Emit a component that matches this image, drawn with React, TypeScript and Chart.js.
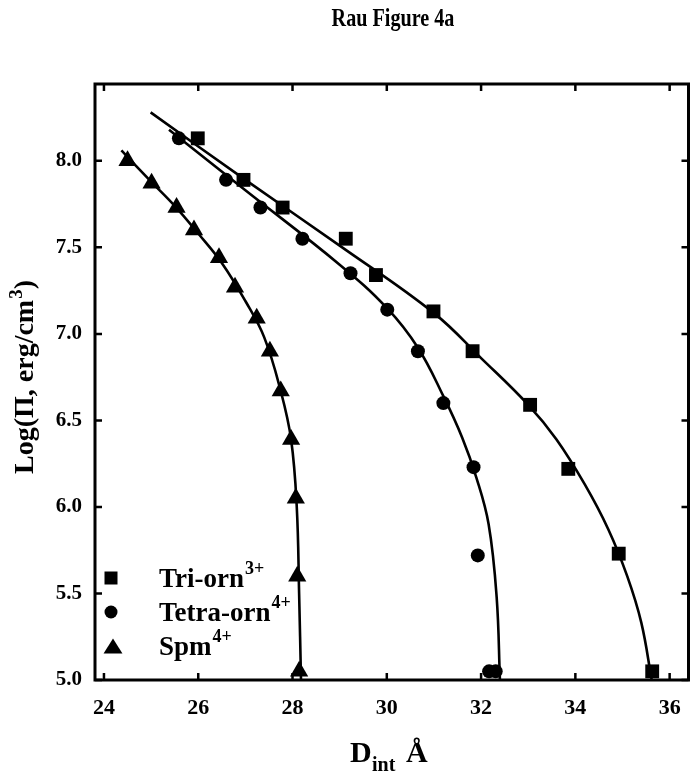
import React, { useEffect, useRef } from 'react';
import { Chart, registerables } from 'chart.js';

Chart.register(...registerables);

// ---- data ----
const triX = [25.99, 26.96, 27.79, 29.13, 29.77, 30.99, 31.82, 33.04, 33.85, 34.92, 35.63];
const triY = [8.13, 7.89, 7.73, 7.55, 7.34, 7.13, 6.90, 6.59, 6.22, 5.73, 5.05];

const tetraX = [25.59, 26.59, 27.32, 28.21, 29.23, 30.01, 30.66, 31.20, 31.84, 31.93, 32.17, 32.31];
const tetraY = [8.13, 7.89, 7.73, 7.55, 7.35, 7.14, 6.90, 6.60, 6.23, 5.72, 5.05, 5.05];

const spmX = [24.50, 25.01, 25.54, 25.91, 26.44, 26.78, 27.24, 27.52, 27.75, 27.97, 28.07, 28.10, 28.14];
const spmY = [8.00, 7.87, 7.73, 7.60, 7.44, 7.27, 7.09, 6.90, 6.67, 6.39, 6.05, 5.60, 5.05];

// fitted curves
const triFitX = [24.99, 27.0, 29.0, 31.0, 32.0, 33.0, 33.6, 34.2, 34.7, 35.1, 35.4, 35.62];
const triFitY = [8.28, 7.89, 7.51, 7.12, 6.86, 6.59, 6.39, 6.13, 5.87, 5.60, 5.33, 5.0];

const tetraFitX = [25.38, 27.0, 29.0, 30.0, 30.66, 31.2, 31.6, 31.9, 32.16, 32.33, 32.40];
const tetraFitY = [8.18, 7.83, 7.40, 7.15, 6.92, 6.64, 6.40, 6.17, 5.90, 5.48, 5.0];

const spmFitX = [24.37, 25.0, 25.5, 26.0, 26.5, 27.0, 27.4, 27.75, 27.97, 28.09, 28.14, 28.18];
const spmFitY = [8.06, 7.88, 7.74, 7.58, 7.41, 7.19, 6.98, 6.67, 6.39, 6.0, 5.5, 5.0];

const xTicks = [24, 26, 28, 30, 32, 34, 36];
const yTicks = [5.0, 5.5, 6.0, 6.5, 7.0, 7.5, 8.0];

const legendNames = ['Tri-orn', 'Tetra-orn', 'Spm'];
const legendSups = ['3+', '4+', '4+'];

const X_MIN = 23.81;
const X_MAX = 36.4;
const Y_MIN = 5.0;
const Y_MAX = 8.444;

const FONT = '"Liberation Serif", "Times New Roman", serif';

const pts = (xs: number[], ys: number[]) => xs.map((x, i) => ({ x, y: ys[i] }));

function drawMarker(ctx: CanvasRenderingContext2D, kind: number, x: number, y: number, s: number) {
  ctx.beginPath();
  if (kind === 0) {
    ctx.rect(x - s / 2, y - s / 2, s, s);
  } else if (kind === 1) {
    ctx.arc(x, y, s / 2, 0, Math.PI * 2);
  } else {
    const w = s * 1.45;
    const h = s * 1.15;
    ctx.moveTo(x, y - h / 2);
    ctx.lineTo(x + w / 2, y + h / 2);
    ctx.lineTo(x - w / 2, y + h / 2);
    ctx.closePath();
  }
  ctx.fill();
}

const framePlugin = {
  id: 'frameAndText',
  afterDraw(chart: any) {
    const { ctx, chartArea: a, scales } = chart;
    ctx.save();
    ctx.strokeStyle = '#000';
    ctx.fillStyle = '#000';
    ctx.lineWidth = 3;
    ctx.strokeRect(a.left, a.top, a.right - a.left, a.bottom - a.top);
    ctx.lineWidth = 2.5;
    const tl = 7;
    xTicks.forEach((v) => {
      const px = scales.x.getPixelForValue(v);
      ctx.beginPath();
      ctx.moveTo(px, a.bottom);
      ctx.lineTo(px, a.bottom - tl);
      ctx.moveTo(px, a.top);
      ctx.lineTo(px, a.top + tl);
      ctx.stroke();
    });
    yTicks.forEach((v) => {
      const py = scales.y.getPixelForValue(v);
      ctx.beginPath();
      ctx.moveTo(a.left, py);
      ctx.lineTo(a.left + tl, py);
      ctx.moveTo(a.right, py);
      ctx.lineTo(a.right - tl, py);
      ctx.stroke();
    });

    // title
    ctx.save();
    ctx.font = `bold 26px ${FONT}`;
    ctx.textAlign = 'center';
    ctx.textBaseline = 'alphabetic';
    ctx.translate(393, 26);
    ctx.scale(0.775, 1);
    ctx.fillText('Rau Figure 4a', 0, 0);
    ctx.restore();

    // y-axis title: Log(Π, erg/cm^3)
    ctx.save();
    ctx.textAlign = 'left';
    ctx.textBaseline = 'alphabetic';
    const big = `bold 28px ${FONT}`;
    const small = `bold 19px ${FONT}`;
    const p1 = 'Log(Π, erg/cm';
    const p2 = '3';
    const p3 = ')';
    ctx.font = big;
    const w1 = ctx.measureText(p1).width;
    const w3 = ctx.measureText(p3).width;
    ctx.font = small;
    const w2 = ctx.measureText(p2).width;
    const total = w1 + w2 + w3 + 1;
    ctx.translate(33, 377);
    ctx.rotate(-Math.PI / 2);
    let cx = -total / 2;
    ctx.font = big;
    ctx.fillText(p1, cx, 0);
    cx += w1 + 1;
    ctx.font = small;
    ctx.fillText(p2, cx, -11);
    cx += w2;
    ctx.font = big;
    ctx.fillText(p3, cx, 0);
    ctx.restore();

    // x-axis title: D_int Å
    ctx.textAlign = 'left';
    ctx.textBaseline = 'alphabetic';
    ctx.font = `bold 30px ${FONT}`;
    ctx.fillText('D', 350, 762);
    ctx.font = `bold 20px ${FONT}`;
    ctx.fillText('int', 372, 771);
    ctx.font = `bold 30px ${FONT}`;
    ctx.fillText('Å', 406, 762);

    // legend
    const rowsY = [587, 621, 655];
    const markerY = [578, 612, 646];
    const markerX = [111, 111, 113];
    const markerS = [13, 13, 13];
    legendNames.forEach((name, i) => {
      drawMarker(ctx, i, markerX[i], markerY[i], markerS[i]);
      ctx.font = `bold 27px ${FONT}`;
      ctx.fillText(name, 159, rowsY[i]);
      const w = ctx.measureText(name).width;
      ctx.font = `bold 18px ${FONT}`;
      ctx.fillText(legendSups[i], 159 + w + 1, rowsY[i] - 13);
    });
    ctx.restore();
  },
};

export default function App() {
  const ref = useRef<HTMLCanvasElement>(null);
  useEffect(() => {
    const lineCommon = {
      showLine: true,
      borderColor: '#000',
      borderWidth: 2.6,
      pointRadius: 0,
      tension: 0.4,
    };
    const chart = new Chart(ref.current!, {
      type: 'scatter',
      data: {
        datasets: [
          { label: 'Tri-orn fit', data: pts(triFitX, triFitY), ...lineCommon },
          { label: 'Tetra-orn fit', data: pts(tetraFitX, tetraFitY), ...lineCommon },
          { label: 'Spm fit', data: pts(spmFitX, spmFitY), ...lineCommon },
          {
            label: 'Tri-orn3+',
            data: pts(triX, triY),
            pointStyle: 'rect',
            pointRadius: 9.8,
            backgroundColor: '#000',
            borderColor: '#000',
            borderWidth: 0,
          },
          {
            label: 'Tetra-orn4+',
            data: pts(tetraX, tetraY),
            pointStyle: 'circle',
            pointRadius: 7,
            backgroundColor: '#000',
            borderColor: '#000',
            borderWidth: 0,
          },
          {
            label: 'Spm4+',
            data: pts(spmX, spmY),
            pointStyle: 'triangle',
            pointRadius: 10.5,
            backgroundColor: '#000',
            borderColor: '#000',
            borderWidth: 0,
          },
        ] as any,
      },
      options: {
        responsive: false,
        animation: false,
        devicePixelRatio: 1,
        clip: false as any,
        layout: { padding: { top: 84, right: 8, left: 0, bottom: 0 } },
        plugins: { legend: { display: false }, tooltip: { enabled: false }, title: { display: false } },
        scales: {
          x: {
            type: 'linear',
            min: X_MIN,
            max: X_MAX,
            afterBuildTicks: (s: any) => {
              s.ticks = xTicks.map((value) => ({ value }));
            },
            afterFit: (s: any) => {
              s.height = 96;
            },
            grid: { display: false, drawTicks: false },
            border: { display: false },
            ticks: {
              font: { family: FONT, size: 22, weight: 'bold' },
              color: '#000',
              padding: 15,
              maxRotation: 0,
              callback: (v: any) => String(v),
            },
          },
          y: {
            type: 'linear',
            min: Y_MIN,
            max: Y_MAX,
            afterBuildTicks: (s: any) => {
              s.ticks = yTicks.map((value) => ({ value }));
            },
            afterFit: (s: any) => {
              s.width = 95;
            },
            grid: { display: false, drawTicks: false },
            border: { display: false },
            ticks: {
              font: { family: FONT, size: 21, weight: 'bold' },
              color: '#000',
              padding: 13,
              callback: (v: any) => Number(v).toFixed(1),
            },
          },
        },
      },
      plugins: [framePlugin],
    });
    return () => chart.destroy();
  }, []);
  return (
    <div style={{ position: 'absolute', left: 0, top: 0, width: 699, height: 776, background: '#fff' }}>
      <canvas ref={ref} width={699} height={776} style={{ width: 699, height: 776, display: 'block' }} />
    </div>
  );
}
